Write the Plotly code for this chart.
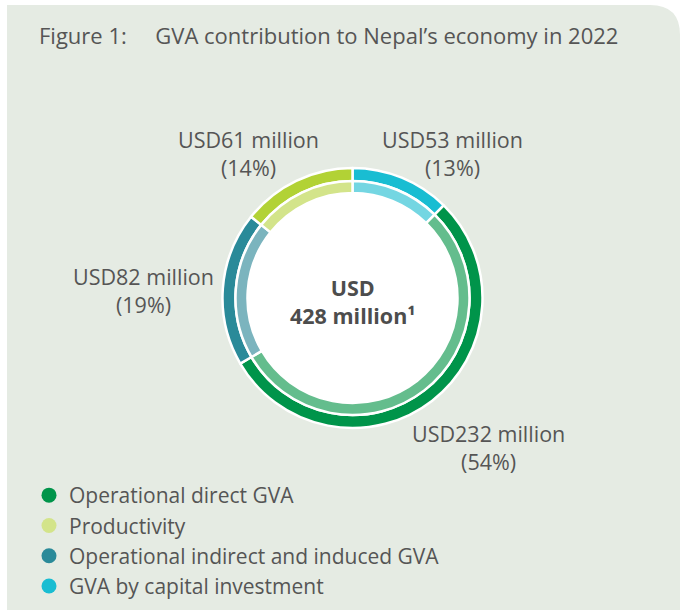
import plotly.graph_objects as go

categories = ["GVA by capital investment", "Operational direct GVA",
              "Operational indirect and induced GVA", "Productivity"]
values_musd = [53, 232, 82, 61]
percent_labels = [13, 54, 19, 14]
dark_colors = ["#19bdd2", "#00944a", "#2a8a99", "#b2d235"]
light_colors = ["#74d6e2", "#64bd8d", "#7bb4be", "#d3e48a"]
legend_order = ["Operational direct GVA", "Productivity",
                "Operational indirect and induced GVA", "GVA by capital investment"]
legend_colors = {"Operational direct GVA": "#00944a", "Productivity": "#d3e48a",
                 "Operational indirect and induced GVA": "#2a8a99",
                 "GVA by capital investment": "#19bdd2"}
total = sum(values_musd)

W, H = 680, 610
cx, cy = 352.5, 298
r_out, r_mid, r_in = 130, 117, 105

def dom(r):
    return dict(x=[(cx - r) / W, (cx + r) / W],
                y=[(H - cy - r) / H, (H - cy + r) / H])

fig = go.Figure()
fig.add_trace(go.Pie(values=values_musd, labels=categories, sort=False,
                     direction="clockwise", rotation=0, hole=r_mid / r_out,
                     domain=dom(r_out), textinfo="none", hoverinfo="label+value",
                     marker=dict(colors=dark_colors, line=dict(color="white", width=2.5)),
                     showlegend=False))
fig.add_trace(go.Pie(values=values_musd, labels=categories, sort=False,
                     direction="clockwise", rotation=0, hole=r_in / r_mid,
                     domain=dom(r_mid), textinfo="none", hoverinfo="label+value",
                     marker=dict(colors=light_colors, line=dict(color="white", width=2.5)),
                     showlegend=False))

for name in legend_order:
    fig.add_trace(go.Scatter(x=[None], y=[None], mode="markers", name=name,
                             marker=dict(symbol="circle", size=15, color=legend_colors[name])))

font_color = "#555555"
ff = "Open Sans"
fs = 21.5
shapes = []
# panel background with rounded top-right corner
x0, y0, x1, y1, rc = 7 / W, 1 - 5 / H, 1.0, 0.0, 30
shapes.append(dict(type="path", xref="paper", yref="paper", layer="below",
                   path=(f"M {x0},{y1} L {x0},{y0} L {1 - rc / W},{y0} "
                         f"Q {x1},{y0} {x1},{1 - (5 + rc) / H} L {x1},{y1} Z"),
                   fillcolor="#e5ebe3", line=dict(width=0)))
shapes.append(dict(type="circle", xref="paper", yref="paper", layer="below",
                   x0=(cx - r_in) / W, x1=(cx + r_in) / W,
                   y0=(H - cy - r_in) / H, y1=(H - cy + r_in) / H,
                   fillcolor="white", line=dict(width=0)))

annotations = [
    dict(text="Figure 1:&nbsp;&nbsp;&nbsp;&nbsp;&nbsp;GVA contribution to Nepal’s economy in 2022",
         x=37 / W, y=1 - 35 / H, xanchor="left", yanchor="middle",
         font=dict(size=22, color=font_color, family=ff)),
    dict(text=f"<b>USD<br>{total} million¹</b>", x=cx / W, y=1 - 301 / H,
         xanchor="center", yanchor="middle",
         font=dict(size=fs, color="#4d4d4d", family=ff)),
]
label_pos = {"GVA by capital investment": (452, 154),
             "Operational direct GVA": (488, 447),
             "Operational indirect and induced GVA": (143, 290),
             "Productivity": (248, 154)}
for name, v, p in zip(categories, values_musd, percent_labels):
    lx, ly = label_pos[name]
    annotations.append(dict(text=f"USD{v} million<br>({p}%)", x=lx / W, y=1 - ly / H,
                            xanchor="center", yanchor="middle",
                            font=dict(size=fs, color=font_color, family=ff)))
for a in annotations:
    a.update(xref="paper", yref="paper", showarrow=False)

fig.update_layout(
    width=W, height=H, margin=dict(l=0, r=0, t=0, b=0, autoexpand=False),
    paper_bgcolor="white", plot_bgcolor="rgba(0,0,0,0)",
    xaxis=dict(visible=False), yaxis=dict(visible=False),
    shapes=shapes, annotations=annotations,
    showlegend=True,
    legend=dict(x=29 / W, y=1 - 475 / H, xanchor="left", yanchor="top",
                bgcolor="rgba(0,0,0,0)", font=dict(size=21, color=font_color, family=ff),
                itemwidth=30, tracegroupgap=0),
)
fig.write_html("out.html", config={"displayModeBar": False},
               post_script="document.body.style.margin='0px';document.body.style.overflow='hidden';")
